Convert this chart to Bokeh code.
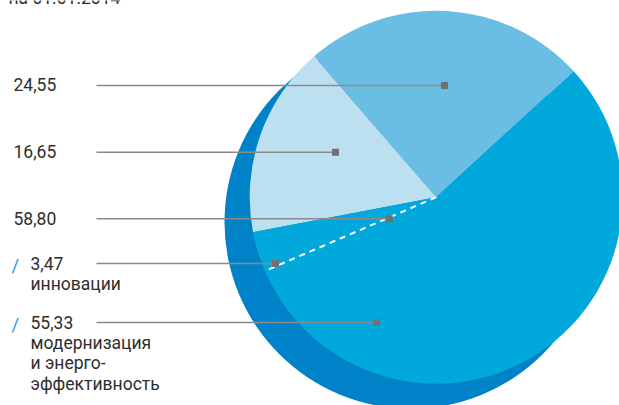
from bokeh.plotting import figure
from bokeh.models import Range1d
from bokeh.core.properties import value
from bokeh.embed import file_html
from bokeh.resources import INLINE
import numpy as np

# ---- data ----
title = "на 01.01.2014"
main_labels = ["24,55", "16,65", "58,80"]
main_values = [24.55, 16.65, 58.80]
sub_labels = ["3,47", "55,33"]
sub_values = [3.47, 55.33]
sub_names = [["инновации"], ["модернизация", "и энерго-", "эффективность"]]

# ---- layout (pixel space, y down) ----
W, H = 619, 405
CX, CY, R = 435.7, 196.7, 186.5
SHADOW_DX, SHADOW_DY = -25.2, 25.0
START_DEG = 42.5
main_colors = ["#6bbee3", "#bde0f1", "#00a8db"]
shadow_color = "#0082c8"
line_color = "#8a8a8a"
marker_color = "#717171"
text_color = "#2e2e2e"
slash_color = "#1f9be0"
FONT = "Roboto"
FS = "17.5px"
TXT_SHIFT = -8.0   # renderer baseline correction

main_marker = [(444, 85), (335, 151.7), (388.7, 218.3)]
sub_marker = [(275, 263), (376, 322)]
LINE_X0 = 96
LBL_X_MAIN = 13
LBL_X_SUB = 30
SLASH_X = 11
LINE_STEP = 20.7


def fy(y):
    return H - y


def ft(y):
    return H - (y + TXT_SHIFT)


p = figure(width=W, height=H, x_range=Range1d(0, W), y_range=Range1d(0, H),
           min_border=0, toolbar_location=None, output_backend="svg")
p.axis.visible = False
p.grid.visible = False
p.outline_line_color = None
p.background_fill_color = "white"
p.border_fill_color = "white"

# shadow disc
p.circle(x=[CX + SHADOW_DX], y=[fy(CY + SHADOW_DY)], radius=R,
         fill_color=shadow_color, line_color=None)

# pie wedges
vals = np.array(main_values)
cum = np.concatenate([[0], np.cumsum(vals)]) / vals.sum() * 2 * np.pi
start = np.deg2rad(START_DEG)
starts = start + cum[:-1]
ends = start + cum[1:]
p.wedge(x=[CX] * len(vals), y=[fy(CY)] * len(vals), radius=R,
        start_angle=list(starts), end_angle=list(ends),
        fill_color=main_colors, line_color=None)

# dashed separator inside the large slice
ang = starts[2] + sub_values[0] / vals.sum() * 2 * np.pi
p.segment(x0=[CX], y0=[fy(CY)], x1=[CX + R * np.cos(ang)], y1=[fy(CY) + R * np.sin(ang)],
          line_color="white", line_width=2, line_dash="6 5")

# leader lines + markers
mx = [m[0] for m in main_marker + sub_marker]
my = [fy(m[1]) for m in main_marker + sub_marker]
p.segment(x0=[LINE_X0] * len(mx), y0=my, x1=mx, y1=my, line_color=line_color, line_width=1.5)
p.scatter(x=mx, y=my, marker="square", size=7, fill_color=marker_color, line_color=None)

# labels
tf = value(FONT)
p.text(x=[LBL_X_MAIN] * 3, y=[ft(m[1] + 7.2) for m in main_marker], text=main_labels,
       text_font=tf, text_font_size=FS, text_color=text_color, text_baseline="alphabetic")
p.text(x=[LBL_X_SUB] * 2, y=[ft(m[1] + 7.5) for m in sub_marker], text=sub_labels,
       text_font=tf, text_font_size=FS, text_color=text_color, text_baseline="alphabetic")
p.text(x=[SLASH_X] * 2, y=[ft(m[1] + 10.5) for m in sub_marker], text=["/", "/"],
       text_font=tf, text_font_size="18.5px", text_color=slash_color, text_baseline="alphabetic")
nx, ny, nt = [], [], []
for (mxx, myy), lines in zip(sub_marker, sub_names):
    for i, t in enumerate(lines):
        nx.append(LBL_X_SUB)
        ny.append(ft(myy + 7.5 + LINE_STEP * (i + 1)))
        nt.append(t)
p.text(x=nx, y=ny, text=nt, text_font=tf, text_font_size=FS, text_color=text_color,
       text_baseline="alphabetic")
p.text(x=[8], y=[ft(5)], text=[title], text_font=tf, text_font_size=FS,
       text_color=text_color, text_baseline="alphabetic")

open("out.html", "w").write(file_html(p, INLINE))
